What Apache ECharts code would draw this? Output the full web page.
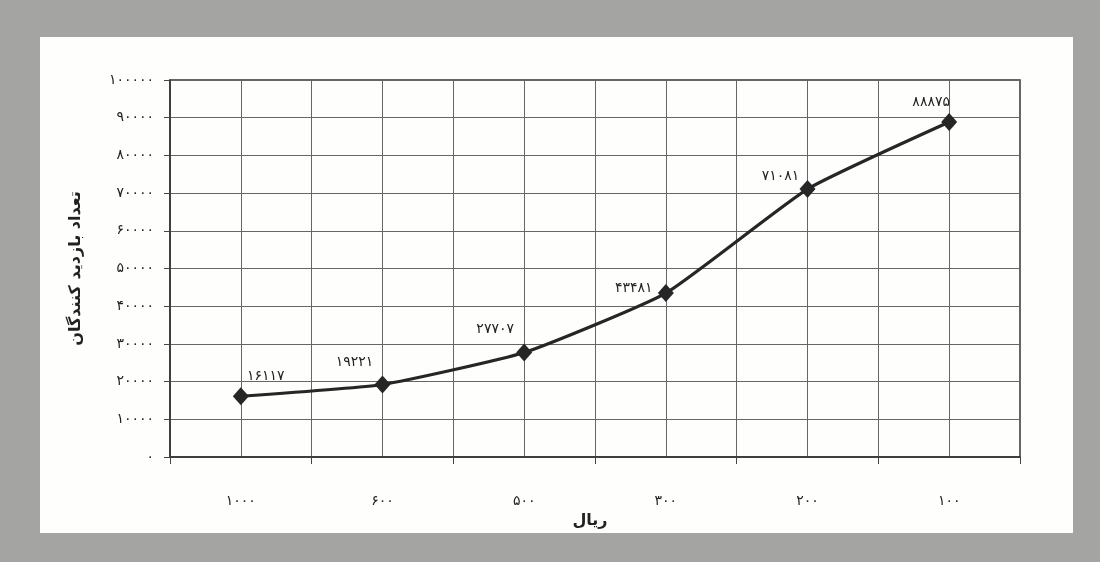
<!DOCTYPE html>
<html>
<head>
<meta charset="utf-8">
<script src="https://cdn.jsdelivr.net/npm/echarts@6/dist/echarts.min.js"></script>
<style>
html,body{margin:0;padding:0;background:#a4a4a2;}
#chart{width:1100px;height:562px;}
</style>
</head>
<body>
<div id="chart"></div>
<script>
// ---- data ----
const categories = ['۱۰۰۰', '۶۰۰', '۵۰۰', '۳۰۰', '۲۰۰', '۱۰۰'];
const visitors = [16117, 19221, 27707, 43481, 71081, 88875];
const yTickLabels = ['٠', '۱۰۰۰۰', '۲۰۰۰۰', '۳۰۰۰۰', '۴۰۰۰۰', '۵۰۰۰۰', '۶۰۰۰۰', '۷۰۰۰۰', '۸۰۰۰۰', '۹۰۰۰۰', '۱۰۰۰۰۰'];
const yAxisTitle = 'تعداد بازدید کنندگان';
const xAxisTitle = 'ریال';

// ---- styling helpers ----
const labelOffsets = [[25, 1], [-28, -1], [-29, -2], [-32, 16], [-27, 8], [-18, 1]];
const faDigits = '۰۱۲۳۴۵۶۷۸۹';
function toFa(n) { return String(n).replace(/[0-9]/g, d => faDigits[+d]); }
const FONT = 'DejaVu Sans';
const ink = '#222';

const chart = echarts.init(document.getElementById('chart'));
chart.setOption({
  backgroundColor: '#a4a4a2',
  animation: false,
  textStyle: { fontFamily: FONT },
  graphic: [{
    type: 'rect', z: -10, silent: true,
    shape: { x: 40, y: 37, width: 1033, height: 496 },
    style: { fill: '#fefefd' }
  }],
  grid: {
    left: 170, right: 80, top: 80, bottom: 105,
    show: true, borderColor: '#333', borderWidth: 1.5, backgroundColor: 'transparent'
  },
  xAxis: [{
    type: 'category',
    data: categories,
    boundaryGap: true,
    axisLine: { lineStyle: { color: '#333', width: 1.5 } },
    axisTick: { show: true, length: 7, interval: 0, lineStyle: { color: '#444' } },
    axisLabel: { margin: 37, fontSize: 14, color: ink, fontFamily: FONT },
    splitLine: { show: false },
    name: xAxisTitle,
    nameLocation: 'middle',
    nameGap: 56,
    nameTextStyle: { fontSize: 16, fontWeight: 'bold', color: ink, fontFamily: FONT, padding: [0, 10, 0, 0] }
  }, {
    type: 'category',
    data: ['', '', '', '', '', '', '', '', '', '', '', ''],
    boundaryGap: true,
    position: 'bottom',
    axisLine: { show: false },
    axisTick: { show: false },
    axisLabel: { show: false },
    splitLine: { show: true, interval: 0, lineStyle: { color: '#666', width: 1 } }
  }],
  yAxis: {
    type: 'value',
    min: 0, max: 100000, interval: 10000,
    axisLine: { show: true, lineStyle: { color: '#333', width: 1.5 } },
    axisTick: { show: true, length: 6, lineStyle: { color: '#444' } },
    axisLabel: {
      margin: 16, fontSize: 14, color: ink, fontFamily: FONT,
      formatter: v => yTickLabels[Math.round(v / 10000)]
    },
    splitLine: { show: true, lineStyle: { color: '#666', width: 1 } },
    name: yAxisTitle,
    nameLocation: 'middle',
    nameRotate: 90,
    nameGap: 86,
    nameTextStyle: { fontSize: 16, fontWeight: 'bold', color: ink, fontFamily: FONT }
  },
  series: [{
    type: 'line',
    xAxisIndex: 0,
    data: visitors.map((v, i) => ({
      value: v,
      label: { offset: labelOffsets[i] }
    })),
    smooth: 0.15,
    symbol: 'diamond',
    symbolSize: [16, 18],
    lineStyle: { color: '#262626', width: 3.2 },
    itemStyle: { color: '#262626' },
    label: {
      show: true, position: 'top', fontSize: 14, color: ink, fontFamily: FONT,
      formatter: p => toFa(p.value)
    }
  }]
});
</script>
</body>
</html>
